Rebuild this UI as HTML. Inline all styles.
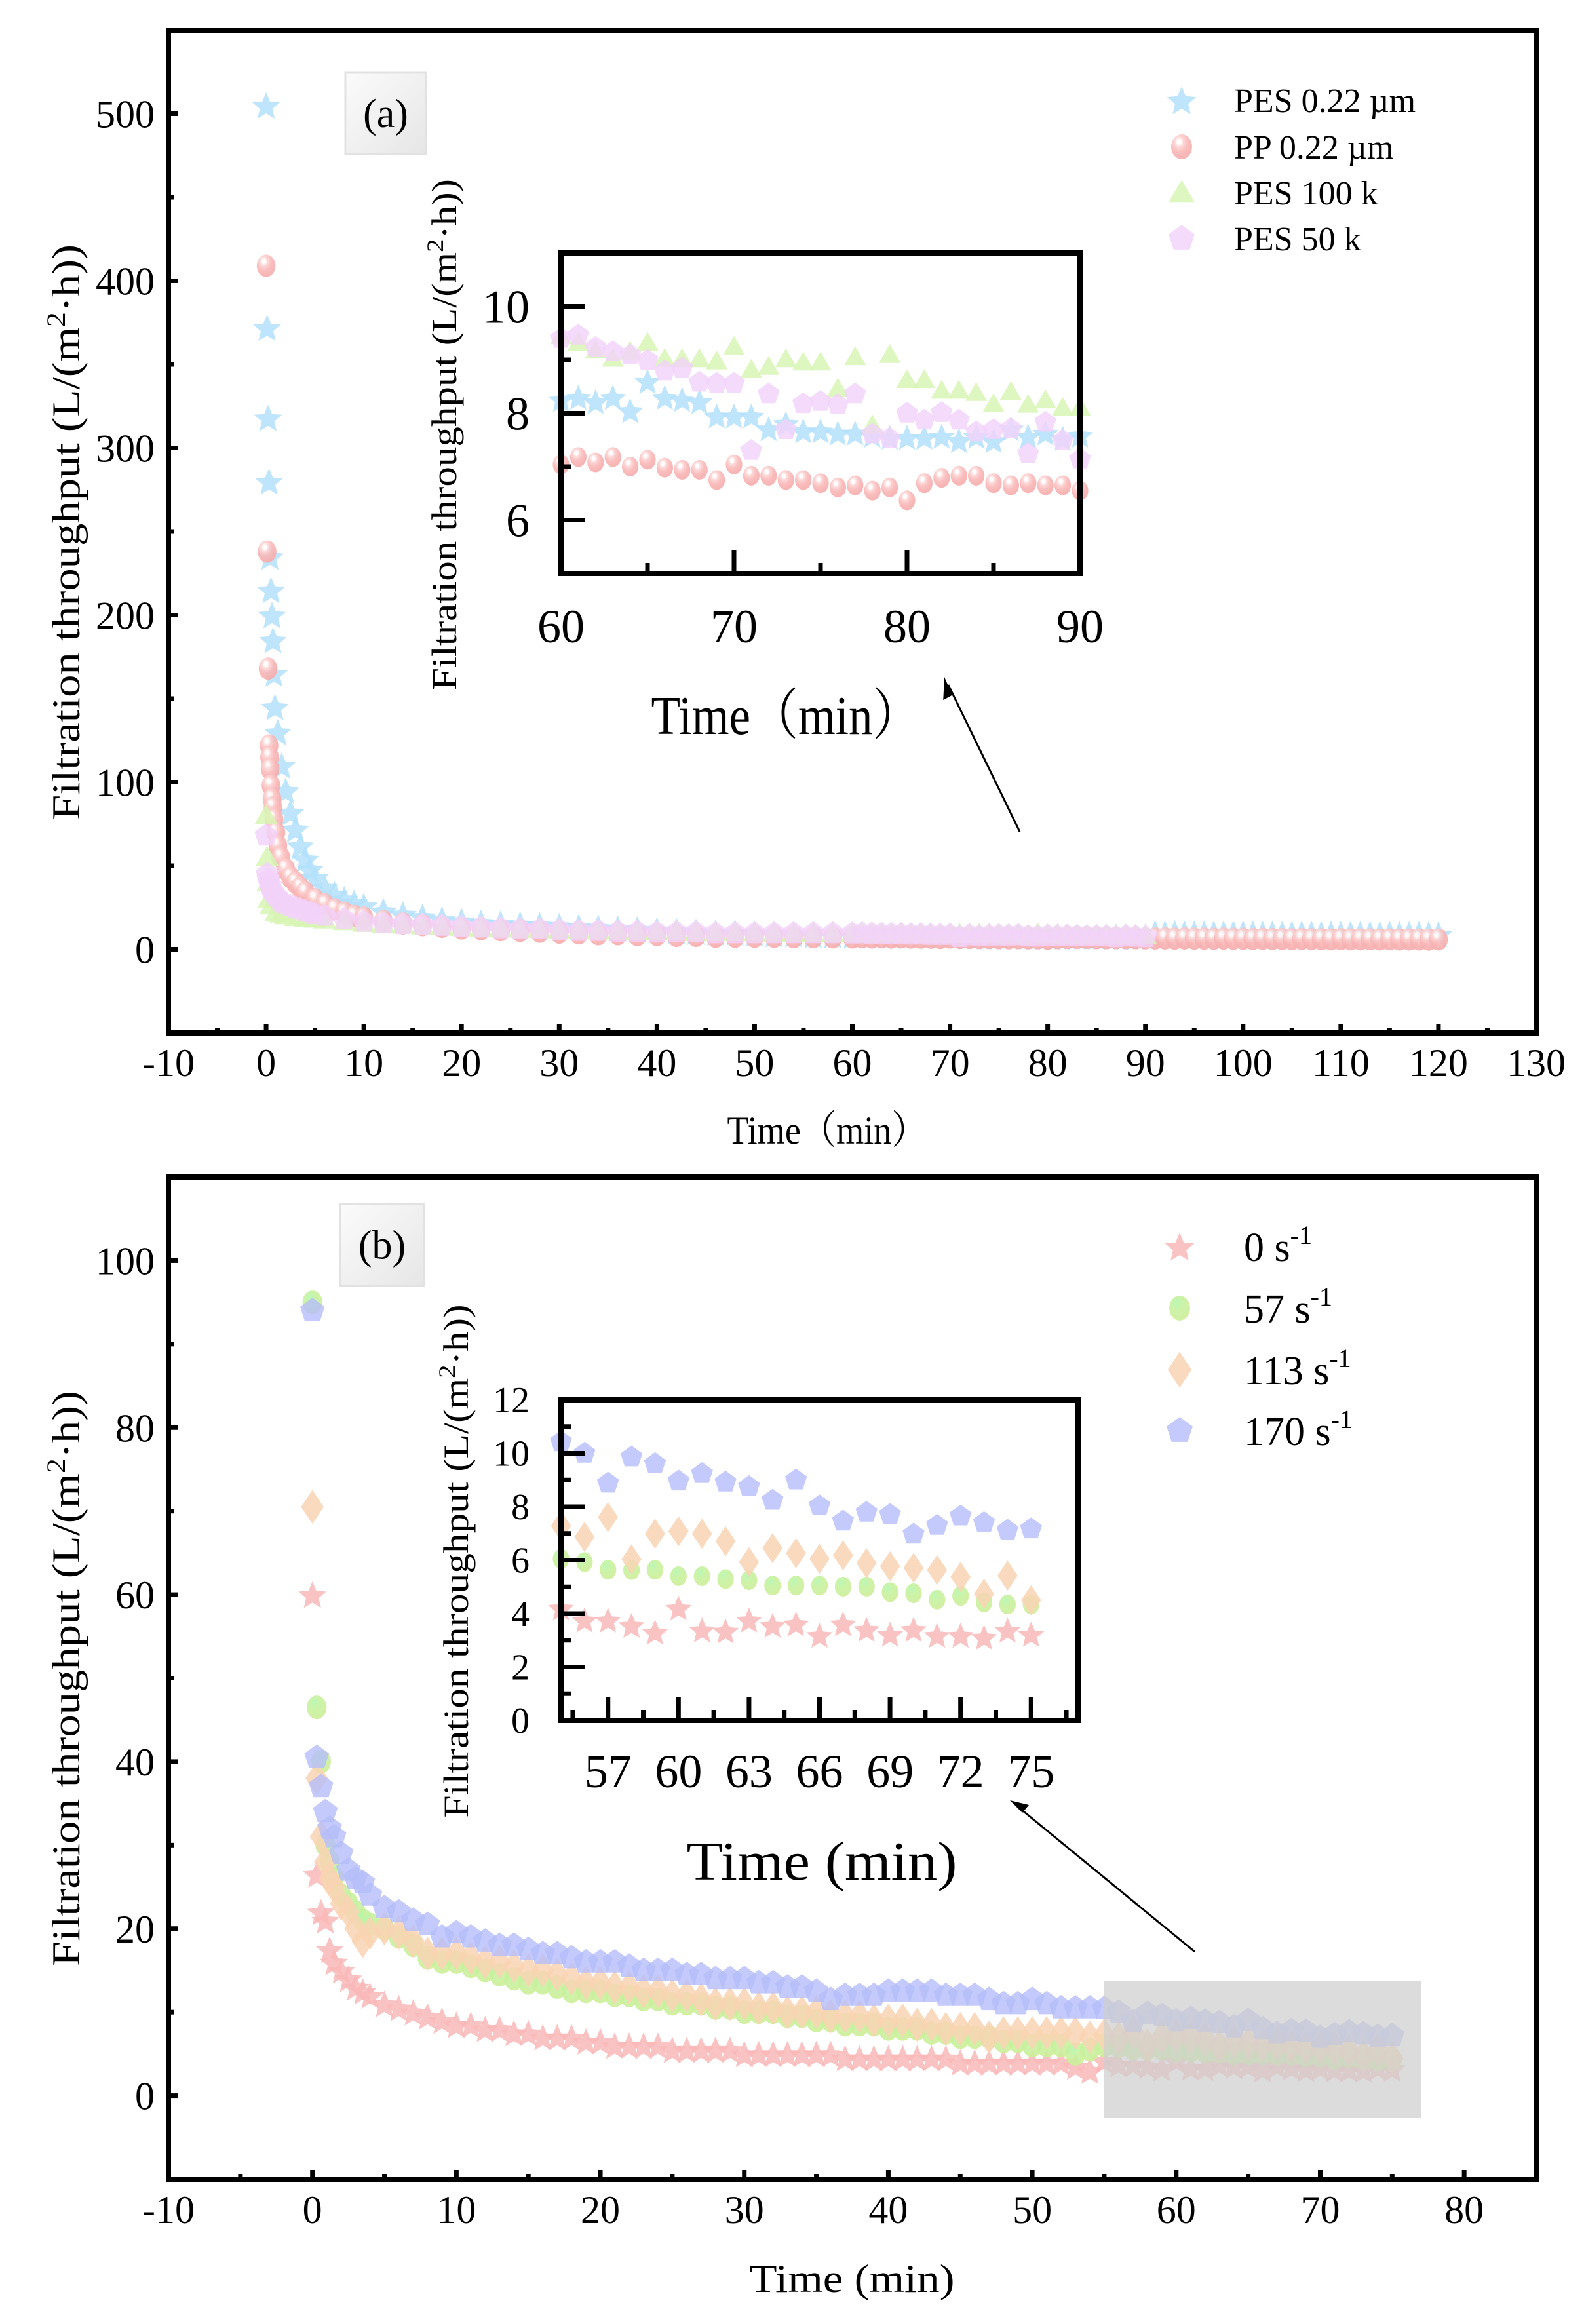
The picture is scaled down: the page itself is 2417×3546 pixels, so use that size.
<!DOCTYPE html>
<html><head><meta charset="utf-8"><style>
html,body{margin:0;padding:0;background:#fff;}
svg{display:block;}
text{font-family:"Liberation Serif","Noto Serif CJK SC",serif;fill:#000;}
</style></head><body>
<svg id="fig" xmlns="http://www.w3.org/2000/svg" width="2417" height="3546" viewBox="0 0 2417 3546">
<defs>
<radialGradient id="gPP" cx="0.38" cy="0.3" r="0.7"><stop offset="0" stop-color="#ffffff"/><stop offset="0.12" stop-color="#ffffff"/><stop offset="0.3" stop-color="#fcd3d3"/><stop offset="0.6" stop-color="#f9b6b6"/><stop offset="1" stop-color="#f7abab"/></radialGradient>
<radialGradient id="gGR" cx="0.38" cy="0.3" r="0.7"><stop offset="0" stop-color="#b2f7b0"/><stop offset="0.35" stop-color="#c5f2a0"/><stop offset="1" stop-color="#cdee98"/></radialGradient>
<linearGradient id="gBox" x1="0" y1="0" x2="1" y2="1"><stop offset="0" stop-color="#fbfbfb"/><stop offset="1" stop-color="#e6e6e6"/></linearGradient>
</defs>
<g id="layer"></g>
</svg>
<script>
// ---------- Panel (a) data ----------
const pes022EarlyT = [0,0.1,0.2,0.3,0.4,0.5,0.6,0.7,0.8,0.9,1.2,1.6,2,2.5,3,3.5,4,4.5,5,6,7,8,9,10];
const pes022EarlyV = [505,372,318,280,235,215,200,185,165,145,130,110,95,82,72,62,54,48,43,37,33,30,28,26];
const ppEarlyT = [0,0.1,0.2,0.3,0.35,0.4,0.5,0.6,0.7,0.8,1,1.2,1.5,2,2.5,3,3.5,4,5,6,7,8,9,10];
const ppEarlyV = [409,238,168,122,115,108,98,90,85,78,70,62,55,48,43,40,37,34,30,27,24,22,20,19];
const pes100EarlyT = [0,0.1,0.2,0.3,0.5,1,1.5,2,3,4,5,6,8,10];
const pes100EarlyV = [80,55,40,30,26,22,21,20,19,18.5,18,17.5,16.5,15.5];
const pes50EarlyT = [0,0.1,0.2,0.3,0.4,0.5,0.7,1,1.3,1.6,2,2.5,3,3.5,4,4.5,5,6,8,10];
const pes50EarlyV = [68,45,42,40,38,36,34,32,30,28,27,26,25,24,23,22,21,20,18,16.5];
const midT = [12,14,16,18,20,22,24,26,28,30,32,34,36,38,40,42,44,46,48,50,52,54,56,58];
const pes022MidV = [23,21,19.5,18,17,16,15.5,15,14.5,14,13.5,13,12.5,12,11.5,11,10.5,10,10,9.5,9,9,8.5,8.5];
const ppMidV = [17,15.5,14.5,13.5,12.5,12,11.5,11,10.5,10,9.5,9,9,8.5,8.5,8,8,7.5,7.5,7.5,7.5,7.2,7.2,7.1];
const pes100MidV = [15,14.5,14,13.5,13,12.5,12.5,12,12,11.5,11.5,11,11,10.5,10.5,10.5,10,10,10,9.8,9.7,9.6,9.5,9.5];
const pes50MidV = [15.5,15,14.5,14,13.5,13,12.5,12,12,11.5,11,11,10.5,10.5,10,10,10,9.5,9.5,9.5,9.5,9.5,9.5,9.5];
const insetAT = [60,61,62,63,64,65,66,67,68,69,70,71,72,73,74,75,76,77,78,79,80,81,82,83,84,85,86,87,88,89,90];
const pes022InsetV = [8.26,8.30,8.22,8.30,8.05,8.60,8.30,8.26,8.22,7.95,7.95,7.95,7.71,7.81,7.67,7.67,7.63,7.63,7.59,7.55,7.55,7.55,7.57,7.49,7.57,7.49,7.71,7.57,7.63,7.53,7.59];
const ppInsetV = [7.04,7.18,7.08,7.18,7.0,7.13,6.98,6.94,6.94,6.75,7.04,6.83,6.83,6.75,6.75,6.69,6.61,6.65,6.55,6.61,6.37,6.69,6.79,6.83,6.83,6.69,6.65,6.69,6.65,6.65,6.55];
const pes100InsetV = [9.44,9.32,9.17,9.02,9.15,9.32,9.02,9.01,9.01,8.97,9.24,8.81,8.87,9.01,8.95,8.95,8.46,9.05,7.77,9.09,8.62,8.62,8.42,8.42,8.38,8.17,8.40,8.16,8.24,8.10,8.10];
const pes50InsetV = [9.4,9.46,9.23,9.15,9.09,8.99,8.79,8.84,8.58,8.56,8.56,7.30,8.36,7.69,8.18,8.22,8.16,8.36,7.61,7.53,8.0,7.87,8.01,7.87,7.65,7.69,7.71,7.24,7.83,7.49,7.14];
const tailT = [91,92,93,94,95,96,97,98,99,100,101,102,103,104,105,106,107,108,109,110,111,112,113,114,115,116,117,118,119,120];
const pes022TailV = [9.6,9.5,9.6,9.5,9.5,9.4,9.5,9.4,9.4,9.5,9.4,9.3,9.4,9.3,9.3,9.4,9.3,9.2,9.3,9.2,9.2,9.3,9.2,9.1,9.2,9.1,9.1,9.2,9.1,9.0];
const ppTailV = [6.5,6.5,6.4,6.5,6.4,6.4,6.3,6.4,6.3,6.3,6.2,6.3,6.2,6.2,6.1,6.2,6.1,6.1,6.0,6.1,6.0,6.0,6.0,5.9,6.0,5.9,5.9,5.9,5.8,5.9];
const aXTicks = [-10,0,10,20,30,40,50,60,70,80,90,100,110,120,130];
const aYTicks = [0,100,200,300,400,500];
const aInsetXTicks = [60,70,80,90];
const aInsetYTicks = [6,8,10];
const aLegend = ["PES 0.22 µm","PP 0.22 µm","PES 100 k","PES 50 k"];

// ---------- Panel (b) data ----------
const bEarlyT = [0,0.3,0.6,0.9,1.2,1.5,2,2.5,3,3.5,4,5,6,7,8,9,10,11,12,13,14,15,16,17,18,19,20,21,22,23,24,25,26,27,28,29,30,31,32,33,34,35,36,37,38,39,40,41,42,43,44,45,46,47,48,49,50,51,52,53,54];
const s170EarlyV = [94,40.5,37,34,32,31,29,27,26,25.5,24,22.5,22,21,20.5,19,19.5,19,18.5,18,18,17.5,17,17,16.5,16,16,16,15.5,15,15,15,14.5,14.5,14,14,14,13.5,13.5,13,13,12.5,11.5,12,12,12,12.5,12.5,12.5,12.5,12,12,12,11.5,11,11,11.5,11,10.5,10.5,10.5];
const s113EarlyV = [70.5,38,31,28,26,25,23,22,20,18.5,19.5,20,19.5,18.5,17,17,17,16.5,16,16,15.5,15,15,14.5,14,13.5,13.5,13,13,12.5,12.5,12,12,11.5,11,11,11,10.5,10.5,10,10,10,9.5,9.5,9.5,9,9,9,8.5,8.5,8,8,8,7,7.5,7.5,7.5,7.5,7.5,7.5,7];
const s57EarlyV = [95,46.5,40,30,28,26,24,23,22,21,20.5,20,19,18,16.5,16,16,15.5,15,14.5,14,13.5,13.5,13,12.5,12.5,12.5,12,12,11.5,11.5,11,11,11,10.5,10.5,10,10,10,9.5,9.5,9,9,8.5,8.5,8.5,8,8,8,7.5,7.5,7,7,7,6.5,6.5,6,6,6,5,5.5];
const s0EarlyV = [60,26.5,22,21,17.5,16,15,14,13,12.5,12,11,10.5,10,9.5,9,8.5,8.5,8,8,7.5,7.5,7,7,7,6.5,6.5,6,6,6,6,5.5,5.5,5.5,5.5,5.5,5,5,5,5,5,5,5,4.5,4.5,4.5,4.5,4.5,4.5,4.5,4.5,4,4,4,4,4,4,4,4,3.5,3];
const insetBT = [55,56,57,58,59,60,61,62,63,64,65,66,67,68,69,70,71,72,73,74,75];
const s170InsetV = [10.43,10.0,8.88,9.86,9.61,8.96,9.24,8.92,8.75,8.24,9.0,8.03,7.46,7.79,7.71,6.97,7.30,7.65,7.40,7.12,7.17];
const s113InsetV = [7.28,6.87,7.61,6.03,6.99,7.08,6.99,6.71,5.93,6.45,6.26,6.05,6.18,5.89,5.77,5.71,5.63,5.37,4.74,5.42,4.5];
const s57InsetV = [6.05,5.93,5.64,5.63,5.64,5.40,5.40,5.29,5.25,5.05,5.05,5.05,5.01,5.01,4.80,4.76,4.52,4.66,4.42,4.34,4.34];
const s0InsetV = [4.21,3.76,3.76,3.56,3.31,4.21,3.39,3.35,3.76,3.56,3.62,3.19,3.62,3.41,3.23,3.41,3.19,3.19,3.12,3.38,3.23];
const bXTicks = [-10,0,10,20,30,40,50,60,70,80];
const bYTicks = [0,20,40,60,80,100];
const bInsetXTicks = [57,60,63,66,69,72,75];
const bInsetYTicks = [0,2,4,6,8,10,12];
const bLegend = ["0 s","57 s","113 s","170 s"];

// ---------- axis functions ----------
const xa = t => 257 + (t + 10) * (2087 / 140);
const ya = v => 1576 - (v + 50) * (1530 / 600);
const xia = t => 856 + (t - 60) * (792 / 30);
const yia = v => 875 - (v - 5) * (489 / 6);
const xb = t => 257 + (t + 10) * (2087 / 95);
const yb = v => 3325 - (v + 10) * (1529 / 120);
const xib = t => 856 + (t - 55) * (789 / 22);
const yib = v => 2625 - v * (489 / 12);

const NS = "http://www.w3.org/2000/svg";
const root = document.getElementById('layer');
function mk(tag, attrs, parent) {
  const e = document.createElementNS(NS, tag);
  for (const k in attrs) e.setAttribute(k, attrs[k]);
  (parent || root).appendChild(e);
  return e;
}
function starPath(cx, cy, r) {
  let d = '';
  for (let i = 0; i < 10; i++) {
    const rr = i % 2 ? r * 0.45 : r;
    const a = -Math.PI / 2 + i * Math.PI / 5;
    d += (i ? 'L' : 'M') + (cx + rr * Math.cos(a)).toFixed(1) + ' ' + (cy + rr * Math.sin(a) + r * 0.1).toFixed(1);
  }
  return d + 'Z';
}
function polyPath(cx, cy, r, n, rot) {
  let d = '';
  for (let i = 0; i < n; i++) {
    const a = rot + i * 2 * Math.PI / n;
    d += (i ? 'L' : 'M') + (cx + r * Math.cos(a)).toFixed(1) + ' ' + (cy + r * Math.sin(a)).toFixed(1);
  }
  return d + 'Z';
}
function marker(shape, cx, cy, s, color, parent) {
  let e;
  if (shape === 'star') e = mk('path', {d: starPath(cx, cy, s * 0.62), fill: color, 'fill-opacity': 0.85}, parent);
  else if (shape === 'ball') e = mk('ellipse', {cx: cx, cy: cy, rx: s * 0.42, ry: s * 0.5, fill: color, 'fill-opacity': 0.9}, parent);
  else if (shape === 'tri') e = mk('path', {d: polyPath(cx, cy + s * 0.08, s * 0.6, 3, -Math.PI / 2), fill: color, 'fill-opacity': 0.85}, parent);
  else if (shape === 'pent') e = mk('path', {d: polyPath(cx, cy, s * 0.55, 5, -Math.PI / 2), fill: color, 'fill-opacity': 0.8}, parent);
  else e = mk('path', {d: `M${cx} ${cy - s * 0.72}L${cx + s * 0.48} ${cy}L${cx} ${cy + s * 0.72}L${cx - s * 0.48} ${cy}Z`, fill: color, 'fill-opacity': 0.85}, parent);
  return e;
}
function txt(x, y, s, size, anchor, parent, extra) {
  const t = mk('text', Object.assign({x: x, y: y, 'font-size': size, 'text-anchor': anchor || 'middle'}, extra || {}), parent);
  t.textContent = s;
  return t;
}
function frame(x0, y0, x1, y1, name, parent) {
  const r = mk('rect', {x: x0, y: y0, width: x1 - x0, height: y1 - y0, fill: 'none', stroke: '#000', 'stroke-width': 8}, parent);
  
  
}
function tick(x1, y1, x2, y2, parent) {
  const l = mk('line', {x1: x1, y1: y1, x2: x2, y2: y2, stroke: '#000', 'stroke-width': 7}, parent);
  
  
}
function series(shape, color, ts, vs, fx, fy, size, name, parent) {
  const g = mk('g', {}, parent);
  
  
  for (let i = 0; i < ts.length; i++) {
    const m = marker(shape, fx(ts[i]), fy(vs[i]), size, color, g);
    
    
  }
}
function labelBox(x, y, w, h, s, name) {
  const g = mk('g', {});
  
  
  mk('rect', {x: x, y: y, width: w, height: h, fill: 'url(#gBox)', stroke: '#e2e2e2', 'stroke-width': 3}, g);
  txt(x + w / 2, y + h / 2 + 21, s, 62, 'middle', g);
}

// ================= PANEL A =================
const pa = mk('g', {});


const paData = mk('g', {}, pa);


series('star', '#b3e1fb', pes022EarlyT.concat(midT, insetAT, tailT), pes022EarlyV.concat(pes022MidV, pes022InsetV, pes022TailV), xa, ya, 36, 'series-pes-022', paData);
series('ball', 'url(#gPP)', ppEarlyT.concat(midT, insetAT, tailT), ppEarlyV.concat(ppMidV, ppInsetV, ppTailV), xa, ya, 34, 'series-pp-022', paData);
series('tri', '#d8f5b4', pes100EarlyT.concat(midT, insetAT), pes100EarlyV.concat(pes100MidV, pes100InsetV), xa, ya, 34, 'series-pes-100k', paData);
series('pent', '#f2d2fa', pes50EarlyT.concat(midT, insetAT), pes50EarlyV.concat(pes50MidV, pes50InsetV), xa, ya, 34, 'series-pes-50k', paData);
frame(257, 46, 2344, 1576, 'panel-a-plot-frame', pa);
for (const t of aXTicks) {
  tick(xa(t), 1576, xa(t), 1562, pa);
  const l = txt(xa(t), 1642, String(t), 60, 'middle', pa);
  
  
  if (t < 130) tick(xa(t + 5), 1576, xa(t + 5), 1568, pa);
}
for (const v of aYTicks) {
  tick(257, ya(v), 271, ya(v), pa);
  const l = txt(236, ya(v) + 21, String(v), 60, 'end', pa);
  
  
}
for (const v of [-50, 50, 150, 250, 350, 450, 550]) tick(257, ya(v), 265, ya(v), pa);
const aXT = txt(1262, 1745, 'Time（min）', 60, 'middle', pa, {textLength: 305, lengthAdjust: 'spacingAndGlyphs'});


const aYT = mk('text', {x: 0, y: 0, 'font-size': 60, 'text-anchor': 'middle', transform: 'translate(121,812) rotate(-90)', textLength: 878, lengthAdjust: 'spacingAndGlyphs'}, pa);
aYT.innerHTML = 'Filtration throughput (L/(m<tspan dy="-22" font-size="40">2</tspan><tspan dy="22">·h))</tspan>';


labelBox(527, 111, 123, 124, '(a)', 'panel-a-label');

// legend a
const legA = mk('g', {}, pa);


const aLegShapes = ['star', 'ball', 'tri', 'pent'];
const aLegColors = ['#b3e1fb', 'url(#gPP)', '#d8f5b4', '#f2d2fa'];
const aLegY = [153, 224, 294, 364];
for (let i = 0; i < 4; i++) {
  const m = marker(aLegShapes[i], 1803, aLegY[i], 38, aLegColors[i], legA);
  
  
  const t = txt(1883, aLegY[i] + 18, aLegend[i], 52, 'start', legA);
  
  
}

// inset a
const ia = mk('g', {}, pa);


mk('rect', {x: 856, y: 386, width: 792, height: 489, fill: '#fff'}, ia);
series('star', '#b3e1fb', insetAT, pes022InsetV, xia, yia, 34, 'inset-series-pes-022', ia);
series('ball', 'url(#gPP)', insetAT, ppInsetV, xia, yia, 30, 'inset-series-pp-022', ia);
series('tri', '#d8f5b4', insetAT, pes100InsetV, xia, yia, 32, 'inset-series-pes-100k', ia);
series('pent', '#f2d2fa', insetAT, pes50InsetV, xia, yia, 32, 'inset-series-pes-50k', ia);
frame(856, 386, 1648, 875, 'inset-a-frame', ia);
for (const t of aInsetXTicks) {
  tick(xia(t), 875, xia(t), 839, ia);
  const l = txt(xia(t), 980, String(t), 72, 'middle', ia);
  
  
  if (t < 90) tick(xia(t + 5), 875, xia(t + 5), 859, ia);
}
for (const v of aInsetYTicks) {
  tick(856, yia(v), 892, yia(v), ia);
  const l = txt(808, yia(v) + 25, String(v), 72, 'end', ia);
  
  
}
for (const v of [7, 9]) tick(856, yia(v), 872, yia(v), ia);
const iaYT = mk('text', {x: 0, y: 0, 'font-size': 54, 'text-anchor': 'middle', transform: 'translate(696,663) rotate(-90)', textLength: 780, lengthAdjust: 'spacingAndGlyphs'}, ia);
iaYT.innerHTML = 'Filtration throughput (L/(m<tspan dy="-20" font-size="36">2</tspan><tspan dy="20">·h))</tspan>';


const iaXT = txt(1199, 1120, 'Time（min）', 84, 'middle', ia, {textLength: 411, lengthAdjust: 'spacingAndGlyphs'});


const arA = mk('g', {}, pa);


mk('line', {x1: 1556, y1: 1269, x2: 1447, y2: 1045, stroke: '#000', 'stroke-width': 3}, arA);
mk('path', {d: 'M1441 1033 L1438 1068 L1452 1061 Z', fill: '#000', transform: 'rotate(-2 1441 1033)'}, arA);

// ================= PANEL B =================
const pb = mk('g', {});


const pbData = mk('g', {}, pb);


series('star', '#f9b9b9', bEarlyT.concat(insetBT), s0EarlyV.concat(s0InsetV), xb, yb, 36, 'series-0-s', pbData);
series('ball', 'url(#gGR)', bEarlyT.concat(insetBT), s57EarlyV.concat(s57InsetV), xb, yb, 36, 'series-57-s', pbData);
series('dia', '#f9d4b3', bEarlyT.concat(insetBT), s113EarlyV.concat(s113InsetV), xb, yb, 36, 'series-113-s', pbData);
series('pent', '#b5bdfa', bEarlyT.concat(insetBT), s170EarlyV.concat(s170InsetV), xb, yb, 36, 'series-170-s', pbData);
const hl = mk('rect', {x: xb(55), y: yb(13.7), width: xb(77) - xb(55), height: yb(-2.7) - yb(13.7), fill: '#cfcfcf', 'fill-opacity': 0.72}, pb);


frame(257, 1796, 2344, 3325, 'panel-b-plot-frame', pb);
for (const t of bXTicks) {
  tick(xb(t), 3325, xb(t), 3311, pb);
  const l = txt(xb(t), 3392, String(t), 60, 'middle', pb);
  
  
  tick(xb(t + 5), 3325, xb(t + 5), 3317, pb);
}
for (const v of bYTicks) {
  tick(257, yb(v), 271, yb(v), pb);
  const l = txt(236, yb(v) + 21, String(v), 60, 'end', pb);
  
  
}
for (const v of [10, 30, 50, 70, 90, 110]) tick(257, yb(v), 265, yb(v), pb);
const bXT = txt(1300, 3497, 'Time (min)', 60, 'middle', pb, {textLength: 313, lengthAdjust: 'spacingAndGlyphs'});


const bYT = mk('text', {x: 0, y: 0, 'font-size': 60, 'text-anchor': 'middle', transform: 'translate(121,2561) rotate(-90)', textLength: 878, lengthAdjust: 'spacingAndGlyphs'}, pb);
bYT.innerHTML = 'Filtration throughput (L/(m<tspan dy="-22" font-size="40">2</tspan><tspan dy="22">·h))</tspan>';


labelBox(519, 1837, 128, 125, '(b)', 'panel-b-label');

const legB = mk('g', {}, pb);


const bLegShapes = ['star', 'ball', 'dia', 'pent'];
const bLegColors = ['#f9b9b9', 'url(#gGR)', '#f9d4b3', '#b5bdfa'];
const bLegY = [1902, 1996, 2090, 2183];
for (let i = 0; i < 4; i++) {
  const m = marker(bLegShapes[i], 1800, bLegY[i], 38, bLegColors[i], legB);
  
  
  const t = mk('text', {x: 1898, y: bLegY[i] + 22, 'font-size': 62}, legB);
  t.innerHTML = bLegend[i] + '<tspan dy="-26" font-size="40">-1</tspan>';
  
  
}

const ib = mk('g', {}, pb);


mk('rect', {x: 856, y: 2136, width: 789, height: 489, fill: '#fff'}, ib);
series('star', '#f9b9b9', insetBT, s0InsetV, xib, yib, 34, 'inset-series-0-s', ib);
series('ball', 'url(#gGR)', insetBT, s57InsetV, xib, yib, 30, 'inset-series-57-s', ib);
series('dia', '#f9d4b3', insetBT, s113InsetV, xib, yib, 32, 'inset-series-113-s', ib);
series('pent', '#b5bdfa', insetBT, s170InsetV, xib, yib, 32, 'inset-series-170-s', ib);
frame(856, 2136, 1645, 2625, 'inset-b-frame', ib);
for (const t of bInsetXTicks) {
  tick(xib(t), 2625, xib(t), 2589, ib);
  const l = txt(xib(t), 2727, String(t), 72, 'middle', ib);
  
  
}
for (const t of [55.5, 58.5, 61.5, 64.5, 67.5, 70.5, 73.5, 76.5]) tick(xib(t), 2625, xib(t), 2609, ib);
for (const v of bInsetYTicks) {
  tick(856, yib(v), 892, yib(v), ib);
  const l = txt(808, yib(v) + 19, String(v), 56, 'end', ib);
  
  
}
for (const v of [1, 3, 5, 7, 9, 11]) tick(856, yib(v), 872, yib(v), ib);
const ibYT = mk('text', {x: 0, y: 0, 'font-size': 54, 'text-anchor': 'middle', transform: 'translate(714,2382) rotate(-90)', textLength: 783, lengthAdjust: 'spacingAndGlyphs'}, ib);
ibYT.innerHTML = 'Filtration throughput (L/(m<tspan dy="-20" font-size="36">2</tspan><tspan dy="20">·h))</tspan>';


const ibXT = txt(1254, 2868, 'Time (min)', 84, 'middle', ib, {textLength: 413, lengthAdjust: 'spacingAndGlyphs'});


const arB = mk('g', {}, pb);


mk('line', {x1: 1823, y1: 2978, x2: 1551, y2: 2755, stroke: '#000', 'stroke-width': 3}, arB);
mk('path', {d: 'M1541 2747 L1570 2754 L1560 2766 Z', fill: '#000'}, arB);
</script>
</body></html>
